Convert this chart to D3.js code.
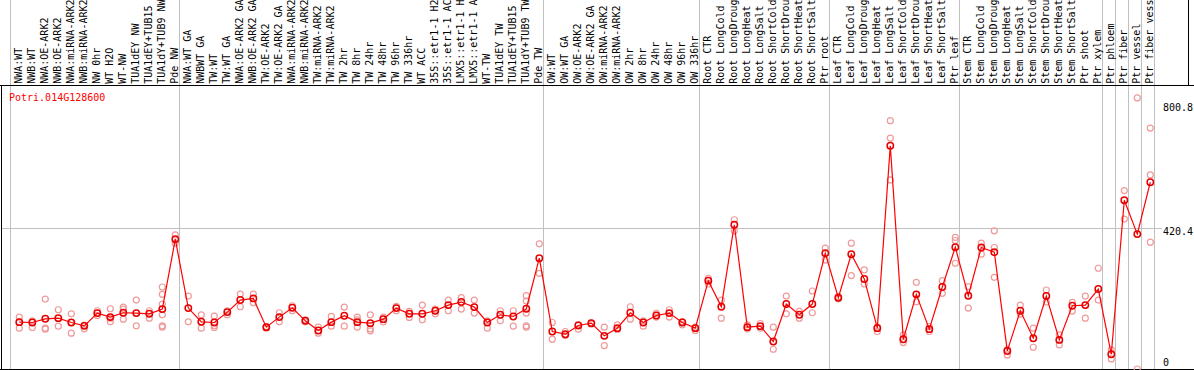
<!DOCTYPE html>
<html><head><meta charset="utf-8">
<script src="https://cdn.jsdelivr.net/npm/d3@7"></script>
<style>
html,body{margin:0;padding:0;background:#fff;}
svg{display:block;}
text{font-family:"DejaVu Sans Mono","Liberation Mono",monospace;font-size:10px;}
</style></head>
<body>
<svg id="chart" width="1194" height="370"></svg>
<script>
const geneName = "Potri.014G128600";
const categories = ["NWA:WT","NWB:WT","NWA:OE-ARK2","NWB:OE-ARK2","NWA:miRNA-ARK2","NWB:miRNA-ARK2","NW 0hr","WT H2O","WT-NW","TUA1dEY NW","TUA1dEY+TUB15","TUA1dY+TUB9 NW","Pde NW",
"NWA:WT GA","NWBWT GA","TW:WT","TW:WT GA","NWA:OE-ARK2 GA","NWB:OE-ARK2 GA","TW:OE-ARK2","TW:OE-ARK2 GA","NWA:miRNA-ARK2","NWB:miRNA-ARK2","TW:miRNA-ARK2","TW:miRNA-ARK2","TW 2hr","TW 8hr","TW 24hr","TW 48hr","TW 96hr","TW 336hr","WT ACC","35S::etr1-1 H2O","35S::etr1-1 ACC","LMX5::etr1-1 H2O","LMX5::etr1-1 ACC","WT-TW","TUA1dEY TW","TUA1dEY+TUB15","TUA1dY+TUB9 TW","Pde TW",
"OW:WT","OW:WT GA","OW:OE-ARK2","OW:OE-ARK2 GA","OW:miRNA-ARK2","OW:miRNA-ARK2","OW 2hr","OW 8hr","OW 24hr","OW 48hr","OW 96hr","OW 336hr",
"Root CTR","Root LongCold","Root LongDrought","Root LongHeat","Root LongSalt","Root ShortCold","Root ShortDrought","Root ShortHeat","Root ShortSalt","Ptr root",
"Leaf CTR","Leaf LongCold","Leaf LongDrought","Leaf LongHeat","Leaf LongSalt","Leaf ShortCold","Leaf ShortDrought","Leaf ShortHeat","Leaf ShortSalt","Ptr leaf",
"Stem CTR","Stem LongCold","Stem LongDrought","Stem LongHeat","Stem LongSalt","Stem ShortCold","Stem ShortDrought","Stem ShortHeat","Stem ShortSalt","Ptr shoot","Ptr xylem",
"Ptr phloem","Ptr fiber","Ptr vessel","Ptr fiber vessel"];
const labelMaxChars = 14;
const groupSizes = [13,28,12,10,10,11,1,1,1,1];
const means = [140,139,150,152,139,129,167,155,168,167,165,179,388,
182,141,139,170,206,211,125,155,183,144,115,140,159,140,137,149,182,165,165,174,191,200,185,139,162,157,180,331,
112,104,130,137,99,122,168,139,160,167,139,122,
264,186,431,125,128,82,194,162,194,346,
213,343,269,122,667,89,223,119,245,364,
219,363,349,54,174,92,218,87,189,191,239,
44,504,403,558];
const replicates = [[155,122,140],[144,124],[209,122,119],[177,128],[165,107,139],[131,120],[174,160],[180,141,152],[185,149,179],[206,129],[174,152],[245,223,194,162,129,125],[401,376],
[218,141],[162,122],[158,124,130],[174,162],[224,186],[224,198],[127,122],[168,141],[189,174],[147,141],[125,107],[157,128],[185,128],[155,125,147],[162,114,120],[155,141],[187,174],[172,154],[191,147],[179,165],[206,174],[213,179],[206,167],[144,122],[174,144],[174,128],[219,203,167,129,125],[374,286],
[139,89],[112,100],[119,133],[137,134],[125,70],[132,118],[186,149],[144,128],[166,155],[177,155],[132,142],[115,125],
[271,254],[206,152],[446,413],[132,120],[136,122],[125,59],[218,165],[172,152],[233,168],[361,326],
[216,210],[376,279],[296,254],[112,126],[742,690,565],[102,79],[259,201],[127,112],[264,226],[393,384,316],
[246,182],[376,343],[413,363,274],[42,59],[191,164],[122,65],[236,200],[102,72],[199,173],[218,152],[301,206],
[57,30],[533,448],[810,0],[720,580,379]];
const yTickValues = [0, 420.4, 800.8];
const yTickLabels = ["0","420.4","800.8"];
const yMax = 840.8;

const W = 1194, H = 370;
const headerBottom = 85, plotBottom = 369;
const svg = d3.select("#chart");

const x = d3.scalePoint().domain(d3.range(categories.length)).range([19.3, 19.3 + 13*(categories.length-1)]);
const step = x.step();
const y = d3.scaleLinear().domain([0, yMax]).range([plotBottom, 87.6]);

// separators
const bounds = [0];
groupSizes.forEach(s => bounds.push(bounds[bounds.length-1] + s));
svg.append("g").selectAll("line").data(bounds).join("line")
  .attr("x1", d => x(0) - 8.8 + step*d).attr("x2", d => x(0) - 8.8 + step*d)
  .attr("y1", 0).attr("y2", plotBottom)
  .attr("stroke", "#c0c0c0").attr("stroke-width", 1);

// horizontal grid at middle tick
svg.append("line").attr("x1", 1).attr("x2", 1162)
  .attr("y1", Math.round(y(420.4)) + 0.5).attr("y2", Math.round(y(420.4)) + 0.5)
  .attr("stroke", "#c0c0c0").attr("stroke-width", 1);

// frame lines
svg.append("line").attr("x1", 0).attr("x2", W).attr("y1", headerBottom+0.5).attr("y2", headerBottom+0.5).attr("stroke", "#000");
svg.append("line").attr("x1", 0).attr("x2", W).attr("y1", plotBottom+0.5).attr("y2", plotBottom+0.5).attr("stroke", "#000");
svg.append("line").attr("x1", 1.5).attr("x2", 1.5).attr("y1", headerBottom).attr("y2", plotBottom).attr("stroke", "#000");
svg.append("line").attr("x1", 1188.5).attr("x2", 1188.5).attr("y1", 0).attr("y2", headerBottom).attr("stroke", "#000");

// header labels (the header column only has room for 14 characters)
svg.append("g").selectAll("text").data(categories).join("text")
  .attr("transform", (d,i) => `translate(${x(i)+2.6},${headerBottom-1.2}) rotate(-90)`)
  .attr("text-anchor", "start")
  .attr("fill", "#000")
  .text(d => d.slice(0, labelMaxChars));

// clip for plot
svg.append("clipPath").attr("id", "plotclip").append("rect")
  .attr("x", 0).attr("y", headerBottom+1).attr("width", W).attr("height", H - headerBottom - 1);

const plot = svg.append("g").attr("clip-path", "url(#plotclip)");

// replicates
const reps = [];
replicates.forEach((arr, i) => arr.forEach(v => reps.push({i, v})));
plot.append("g").selectAll("circle").data(reps).join("circle")
  .attr("cx", d => x(d.i)).attr("cy", d => y(d.v)).attr("r", 3)
  .attr("fill", "none").attr("stroke", "#ef9a9a").attr("stroke-width", 1.2);

// mean line
plot.append("path").datum(means)
  .attr("d", d3.line().x((d,i) => x(i)).y(d => y(d)))
  .attr("fill", "none").attr("stroke", "#ff0000").attr("stroke-width", 1.2);

// mean points
plot.append("g").selectAll("circle").data(means).join("circle")
  .attr("cx", (d,i) => x(i)).attr("cy", d => y(d)).attr("r", 3.2)
  .attr("fill", "none").attr("stroke", "#e60000").attr("stroke-width", 1.5);

// gene label
svg.append("text").attr("x", 9).attr("y", 101).attr("fill", "#ff0000").text(geneName);

// right axis labels
const topTick = d3.max(yTickValues);
svg.append("g").selectAll("text").data(yTickValues).join("text")
  .attr("x", 1163)
  .attr("y", d => d === 0 ? y(d) - 3.5 : (d === topTick ? y(d) + 10 : y(d) + 7))
  .attr("fill", "#000")
  .text((d,i) => yTickLabels[i]);
</script>
</body></html>
